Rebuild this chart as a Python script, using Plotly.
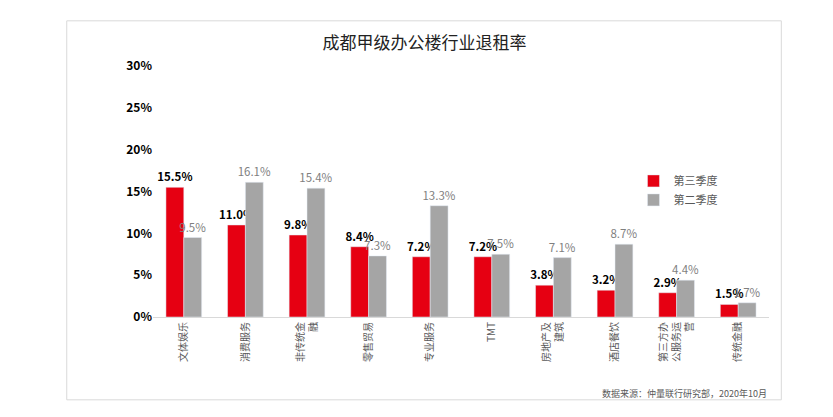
import plotly.graph_objects as go

categories = ["文体娱乐", "消费服务", "非传统金<br>融", "零售贸易", "专业服务", "TMT", "房地产及<br>建筑", "酒店餐饮", "第三方办<br>公服务运<br>营", "传统金融"]
q3 = [15.5, 11.0, 9.8, 8.4, 7.2, 7.2, 3.8, 3.2, 2.9, 1.5]
q2 = [9.5, 16.1, 15.4, 7.3, 13.3, 7.5, 7.1, 8.7, 4.4, 1.7]
yticks = [0, 5, 10, 15, 20, 25, 30]

font = "Noto Sans CJK SC"
fig = go.Figure()
fig.add_bar(x=categories, y=q3, name="第三季度", marker_color="#e60012",
            text=[f"{v:.1f}%" for v in q3], textposition="outside",
            textfont=dict(size=11.5, color="#000", family=font, weight="bold"), cliponaxis=False)
fig.add_bar(x=categories, y=q2, name="第二季度", marker_color="#a5a5a5",
            text=[f"{v:.1f}%" for v in q2], textposition="outside",
            textfont=dict(size=11.5, color="#7f7f7f"), cliponaxis=False)
fig.update_layout(
    width=833, height=417, plot_bgcolor="white", paper_bgcolor="white",
    font=dict(family=font, size=11, color="#404040"),
    title=dict(text="成都甲级办公楼行业退租率", x=0.5, y=0.93, xanchor="center",
               font=dict(size=17, color="#222")),
    margin=dict(l=145, r=72, t=58, b=108),
    barmode="group", bargap=0.42, bargroupgap=0,
    uniformtext=dict(minsize=11, mode="show"),
    legend=dict(x=0.78, y=0.6, xanchor="left", yanchor="top", font=dict(size=11, color="#595959"),
                bgcolor="rgba(0,0,0,0)", itemwidth=30),
    showlegend=True,
)
fig.update_traces(textangle=0)
fig.update_yaxes(range=[0, 30], tickvals=yticks, ticktext=[f"{v}%" for v in yticks],
                 showgrid=False, zeroline=False, tickfont=dict(size=12, color="#000", weight="bold"))
fig.update_xaxes(tickangle=-90, showline=True, linecolor="#d9d9d9", tickfont=dict(size=10, color="#595959"))
fig.add_annotation(text="数据来源：仲量联行研究部，2020年10月", xref="paper", yref="paper",
                   x=1.0, y=-0.27, xanchor="right", yanchor="top", showarrow=False,
                   font=dict(size=9, color="#595959"))
fig.add_shape(type="rect", xref="paper", yref="paper", x0=-0.14, x1=1.02, y0=-0.33, y1=1.18,
              line=dict(color="#d9d9d9", width=1))
fig.write_html("out.html")
